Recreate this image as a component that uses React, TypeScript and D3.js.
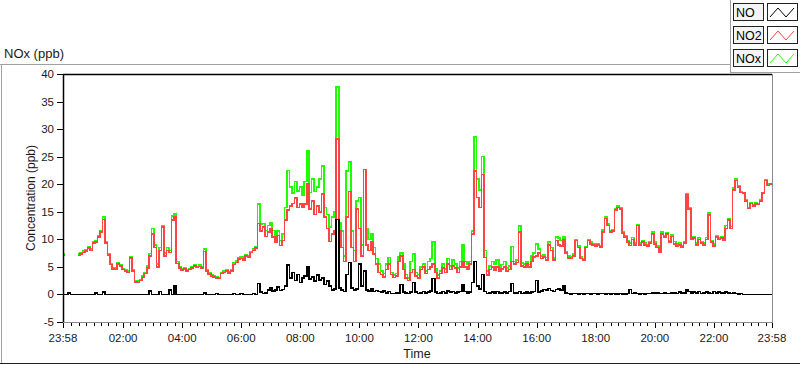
import * as d3 from "d3"

// 5-minute samples, 23:58 -> 23:58 next day (nulls = gap in the NO2/NOx feed)
const START = new Date(2020, 0, 1, 23, 58)
const END = new Date(2020, 0, 2, 23, 58)
const STEP_MIN = 5

const noValues = [
  0, 0, 0.3, 0, 0, 0, 0, 0, 0, 0,
  0, 0, 0, 0.3, 0, 0, 0.4, 0, 0, 0,
  0, 0, 0, 0, 0, 0, 0, 0, 0, 0,
  0, 0, 0, 0, 0, 0.6, 0, 0, 0, 0.5,
  0, 0, 0, 0.8, 0, 1.5, 0, 0, 0, 0,
  0, 0, 0, 0, 0, 0, 0, 0.3, 0, 0,
  0, 0, 0.2, 0, 0, 0, 0, 0, 0, 0.2,
  0, 0, 0.2, 0, 0, 0, 0, 0.2, 0, 2.0,
  0.4, 0.2, 0.3, 0.8, 1.2, 0.6, 0.8, 1.3, 0.7, 0.9,
  1.5, 5.3, 3.0, 4.0, 2.5, 3.6, 2.2, 3.0, 3.4, 5.1,
  2.8, 3.2, 2.4, 3.5, 2.6, 3.0, 1.8, 2.4, 1.5, 0.8,
  1.0, 13.6, 1.2, 0.8, 0.5, 3.6, 5.8, 1.2, 0.8, 1.0,
  5.5, 1.5, 4.2, 0.8, 0.6, 1.0, 0.5, 0.7, 0.5, 0.4,
  0.6, 0.3, 0.5, 0.2, 0.2, 0.3, 0.3, 1.8, 0.4, 0.3,
  0.2, 0.4, 2.2, 0.4, 0.2, 0.3, 0.5, 0.3, 0.4, 0.6,
  2.9, 0.4, 0.2, 0.3, 0.5, 0.3, 0.6, 0.4, 0.5, 0.3,
  0.4, 0.5, 1.8, 0.5, 0.3, 0.4, 2.2, 6.0, 1.5, 1.0,
  3.6, 0.5, 0.2, 0.3, 0.4, 0.3, 0.5, 0.3, 0.3, 0.4,
  0.3, 0.5, 2.0, 0.3, 0.3, 0.5, 0.2, 0.3, 0.4, 0.3,
  0.4, 0.5, 2.5, 0.4, 0.6, 0.9, 0.8, 1.1, 0.7, 0.5,
  0.9, 1.0, 0.8, 1.5, 0.3, 0.2, 0.1, 0.2, 0.2, 0.1,
  0.2, 0.1, 0.2, 0.2, 0.1, 0.2, 0.2, 0.1, 0.2, 0.2,
  0.1, 0.2, 0.1, 0.2, 0.1, 0.1, 0.2, 0.1, 0.1, 0.2,
  0.9, 0.2, 0.3, 0.2, 0.1, 0.2, 0.1, 0.2, 0.2, 0.3,
  0.2, 0.3, 0.2, 0.2, 0.3, 0.2, 0.2, 0.3, 0.3, 0.2,
  0.4, 0.3, 0.3, 0.9, 0.5, 0.3, 0.4, 0.3, 0.5, 0.2,
  0.3, 0.4, 0.3, 0.2, 0.5, 0.3, 0.4, 0.3, 0.2, 0.4,
  0.3, 0.2, 0.3, 0.2, 0.1, 0.2, 0, 0, 0, 0,
  0, 0, 0, 0, 0, 0, 0, 0, 0,
]

const no2Values = [
  7.1, 7.1, null, null, null, null, 7.1, 7.3, 7.6, 7.9,
  8.4, 8.0, 9.3, 9.5, 10.4, 11.3, 13.6, 9.3, 7.2, 5.4,
  4.6, 4.5, 5.5, 5.2, 4.5, 4.2, 4.0, 6.6, 4.2, 2.3,
  2.2, 2.5, 3.1, 3.8, 4.8, 7.0, 11.0, 8.5, 5.0, 8.0,
  12.2, 7.0, 8.0, 7.6, 13.5, 14.0, 5.6, 4.8, 4.4, 4.6,
  4.2, 4.5, 4.8, 5.2, 4.9, 5.1, 4.8, 7.8, 4.2, 3.7,
  3.4, 3.2, 3.0, 2.9, 3.8, 4.0, 4.2, 3.9, 4.3, 5.4,
  5.8, 6.4, 6.5, 6.2, 7.0, 6.8, 7.6, 8.0, 8.4, 12.9,
  11.5, 12.2, 10.5, 11.3, 12.0, 10.4, 9.5, 10.7, 8.9, 9.8,
  13.5, 15.3, 16.0, 16.5, 17.5, 15.8, 16.4, 15.8, 16.4, 20.0,
  15.5, 17.0, 14.5, 16.0, 15.0, 18.2, 14.0, 12.0, 9.6, 11.0,
  11.5, 28.2, 11.5, 8.5, 6.0, 14.0, 18.7, 8.5, 6.0, 15.5,
  12.0, 7.0, 22.7, 9.0, 8.0, 9.6, 7.3, 5.5, 4.0, 3.6,
  3.2, 4.5, 5.5, 3.6, 3.1, 3.4, 6.0, 7.0, 4.5, 3.0,
  2.5, 4.0, 4.5, 3.3, 3.0, 4.5, 5.0, 3.8, 4.5, 5.0,
  5.5, 4.0, 3.0, 3.8, 4.8, 4.0, 5.5, 4.5, 5.2, 4.8,
  4.0, 5.0, 6.0, 5.0, 4.5, 5.5, 11.0, 22.4, 17.6, 15.8,
  21.8, 6.7, 3.5, 4.5, 5.0, 4.4, 5.0, 4.3, 4.6, 5.0,
  4.2, 4.5, 6.0, 5.5, 5.8, 11.3, 5.2, 5.0, 5.5, 5.0,
  6.0, 6.8, 7.0, 7.5, 6.5, 6.8, 6.3, 9.0, 8.0, 6.2,
  9.8, 9.0, 8.8, 10.0, 7.5, 6.6, 6.5, 7.0, 9.8, 8.5,
  6.5, 6.3, 8.5, 9.8, 9.2, 9.0, 8.8, 9.0, 8.6, 11.3,
  13.8, 12.5, 11.3, 11.5, 15.3, 15.8, 15.5, 11.1, 10.4, 9.5,
  8.9, 10.0, 9.0, 12.5, 9.0, 9.5, 9.0, 8.8, 9.3, 11.0,
  9.2, 8.5, 7.6, 11.0, 10.4, 11.0, 9.5, 10.5, 9.2, 8.8,
  9.0, 8.6, 9.3, 18.0, 15.5, 10.0, 10.2, 9.0, 10.0, 9.3,
  9.0, 10.0, 14.4, 9.5, 8.8, 10.4, 10.0, 10.2, 9.8, 12.0,
  13.5, 12.0, 19.0, 20.7, 19.5, 18.5, 18.4, 17.0, 15.6, 16.5,
  16.0, 16.5, 16.3, 17.0, 18.4, 20.7, 19.8, 20.0, 19.8,
]

const noxValues = [
  7.3, 7.3, null, null, null, null, 7.3, 7.5, 7.9, 8.1,
  8.6, 8.2, 9.5, 9.7, 10.6, 11.5, 14.0, 9.6, 7.4, 5.6,
  4.9, 4.8, 5.7, 5.4, 4.7, 4.4, 4.2, 6.8, 4.4, 2.5,
  2.4, 2.7, 3.4, 4.0, 5.2, 7.4, 12.0, 9.0, 5.5, 8.5,
  12.5, 7.5, 8.5, 8.0, 14.2, 14.6, 6.0, 5.1, 4.6, 4.8,
  4.4, 4.7, 5.0, 5.4, 5.1, 5.3, 5.0, 8.3, 4.4, 3.9,
  3.6, 3.4, 3.2, 3.0, 4.0, 4.2, 4.4, 4.1, 4.5, 5.7,
  6.1, 6.7, 6.8, 6.5, 7.2, 7.0, 7.8, 8.2, 8.6, 16.4,
  12.8, 12.9, 11.6, 12.5, 13.0, 11.6, 10.4, 11.5, 9.8, 11.0,
  15.8, 22.5, 19.5, 18.4, 20.5, 18.8, 19.5, 18.0, 20.5, 26.0,
  18.5, 21.0, 18.7, 19.5, 21.0, 23.3, 15.8, 14.5, 12.2, 14.0,
  15.0, 37.6, 13.0, 11.5, 7.0, 22.4, 24.0, 11.5, 8.0, 17.0,
  17.6, 9.0, 22.7, 12.0, 10.0, 11.0, 8.5, 6.5, 5.5, 4.2,
  3.8, 5.5, 6.7, 4.0, 3.5, 3.8, 6.8, 7.5, 5.5, 3.6,
  3.0, 6.0, 7.3, 4.0, 3.6, 5.0, 5.5, 4.3, 6.0, 6.5,
  9.5, 4.6, 3.5, 4.3, 5.5, 4.6, 6.5, 5.2, 6.3, 5.5,
  4.8, 6.0, 9.0, 6.0, 5.5, 6.0, 11.5, 28.6, 21.0, 19.0,
  25.0, 8.0, 4.2, 5.2, 6.0, 5.5, 6.3, 5.0, 5.4, 6.0,
  4.8, 5.2, 8.7, 6.0, 6.2, 12.4, 5.7, 5.5, 6.0, 5.4,
  7.0, 7.5, 9.2, 8.2, 7.0, 7.2, 6.7, 9.5, 8.5, 6.6,
  10.4, 10.2, 9.8, 10.5, 7.8, 7.0, 6.8, 7.3, 10.0, 8.8,
  6.8, 6.5, 8.7, 10.0, 9.5, 9.2, 9.0, 9.2, 8.8, 11.7,
  14.0, 12.8, 11.5, 11.7, 15.6, 16.0, 15.7, 11.3, 10.7, 9.8,
  9.3, 10.3, 9.3, 12.7, 9.3, 9.8, 9.3, 9.0, 9.5, 11.3,
  9.5, 8.8, 8.0, 11.3, 10.6, 11.2, 9.8, 10.8, 9.6, 9.1,
  9.3, 8.9, 9.6, 18.2, 15.8, 10.4, 10.5, 9.3, 10.3, 9.6,
  9.3, 10.3, 14.8, 9.8, 9.1, 10.6, 10.2, 10.4, 10.0, 12.5,
  13.8, 12.3, 19.3, 21.0, 19.8, 18.7, 18.5, 17.2, 15.8, 16.7,
  16.2, 16.6, 16.5, 17.1, 18.5, 20.8, 20.0, 20.1, 19.9,
]

const yTicks = [-5, 0, 5, 10, 15, 20, 25, 30, 35, 40]

const series = [
  { name: "NOx", values: noxValues, color: "#20ff00" },
  { name: "NO2", values: no2Values, color: "#ff4444" },
  { name: "NO", values: noValues, color: "#000000" },
]
const legendItems = [
  { name: "NO", color: "#000000" },
  { name: "NO2", color: "#ff4444" },
  { name: "NOx", color: "#20ff00" },
]

const FONT = "'Liberation Sans', Arial, sans-serif"

export default function App() {
  const plot = { left: 63, right: 772, top: 74, bottom: 322 }

  const x = d3.scaleTime().domain([START, END]).range([plot.left, plot.right])
  const y = d3.scaleLinear().domain([-5, 40]).range([plot.bottom, plot.top])

  const timeAt = (i: number) => d3.timeMinute.offset(START, i * STEP_MIN)

  const line = d3
    .line<number | null>()
    .defined((d) => d !== null)
    .x((_, i) => x(timeAt(i)))
    .y((d) => y(d as number))
    .curve(d3.curveStepAfter)

  // x ticks: labelled every 2h plus both ends, minor every 15 min
  const majorTicks = [START, ...d3.timeHour.every(2)!.range(d3.timeMinute.offset(START, 30), END), END]
  const fmt = d3.timeFormat("%H:%M")
  const minorTicks = d3.timeMinute
    .every(15)!
    .range(START, END)
    .filter((t) => !(t.getMinutes() === 0 && t.getHours() % 2 === 0))

  return (
    <svg
      width={800}
      height={365}
      style={{ position: "absolute", left: 0, top: 0, background: "#fff" }}
      fontFamily={FONT}
    >
      {/* outer panel */}
      <line x1={0} x2={730} y1={64.5} y2={64.5} stroke="#a0a0a0" />
      <line x1={1.5} x2={1.5} y1={64} y2={364} stroke="#a0a0a0" />
      <line x1={0} x2={800} y1={363.5} y2={363.5} stroke="#202020" />
      <text x={4} y={58} fontSize={13} fill="#1a1a1a">
        NOx (ppb)
      </text>

      {/* legend */}
      <line x1={730.5} x2={730.5} y1={0} y2={72} stroke="#a0a0a0" />
      <line x1={730} x2={800} y1={72.5} y2={72.5} stroke="#a0a0a0" />
      {legendItems.map((item, i) => {
        const top = 3 + i * 23
        return (
          <g key={item.name}>
            <rect x={733.5} y={top + 0.5} width={30} height={17} fill="#f4f4f4" stroke="#222" />
            <text x={736} y={top + 14} fontSize={12.5} fill="#000">
              {item.name}
            </text>
            <rect x={767.5} y={top + 0.5} width={30} height={17} fill="#fff" stroke="#222" />
            <polyline
              points={`770,${top + 14} 778,${top + 5} 786,${top + 14} 794,${top + 5}`}
              fill="none"
              stroke={item.color}
              strokeWidth={1}
            />
          </g>
        )
      })}

      {/* plot frame */}
      <rect x={plot.left} y={plot.top} width={plot.right - plot.left} height={plot.bottom - plot.top} fill="#fff" />
      <defs>
        <clipPath id="plot-clip">
          <rect x={plot.left} y={plot.top} width={plot.right - plot.left} height={plot.bottom - plot.top} />
        </clipPath>
      </defs>

      <g clipPath="url(#plot-clip)">
        {series.map((s) => (
          <path
            key={s.name}
            d={line(s.values) || ""}
            fill="none"
            stroke={s.color}
            strokeWidth={1.6}
            shapeRendering="crispEdges"
          />
        ))}
      </g>

      <line x1={plot.left} x2={plot.right} y1={plot.top + 0.5} y2={plot.top + 0.5} stroke="#000" strokeWidth={1.5} />
      <line x1={plot.left + 0.5} x2={plot.left + 0.5} y1={plot.top} y2={plot.bottom + 1} stroke="#000" strokeWidth={1.5} />
      <line x1={plot.right + 0.5} x2={plot.right + 0.5} y1={plot.top} y2={plot.bottom + 1} stroke="#8c8c8c" />
      <line x1={plot.left} x2={plot.right + 1} y1={plot.bottom + 0.5} y2={plot.bottom + 0.5} stroke="#8c8c8c" />

      {/* y axis */}
      {yTicks.map((t) => (
        <g key={t}>
          <line x1={57} x2={63} y1={Math.round(y(t)) + 0.5} y2={Math.round(y(t)) + 0.5} stroke="#000" />
          <text x={54} y={y(t) + 4} fontSize={11.5} textAnchor="end" fill="#1a1a1a">
            {t}
          </text>
        </g>
      ))}
      <text
        transform={`translate(35, ${(plot.top + plot.bottom) / 2}) rotate(-90)`}
        fontSize={12}
        textAnchor="middle"
        fill="#1a1a1a"
      >
        Concentration (ppb)
      </text>

      {/* x axis */}
      {minorTicks.map((t) => (
        <line
          key={+t}
          x1={Math.round(x(t)) + 0.5}
          x2={Math.round(x(t)) + 0.5}
          y1={plot.bottom + 1}
          y2={plot.bottom + 4}
          stroke="#000"
        />
      ))}
      {majorTicks.map((t, i) => (
        <g key={i}>
          <line
            x1={Math.round(x(t)) + 0.5}
            x2={Math.round(x(t)) + 0.5}
            y1={plot.bottom + 1}
            y2={plot.bottom + 6}
            stroke="#000"
          />
          <text x={x(t)} y={plot.bottom + 20} fontSize={11.5} textAnchor="middle" fill="#1a1a1a">
            {fmt(t)}
          </text>
        </g>
      ))}
      <text x={417} y={358} fontSize={12.5} textAnchor="middle" fill="#1a1a1a">
        Time
      </text>
    </svg>
  )
}
